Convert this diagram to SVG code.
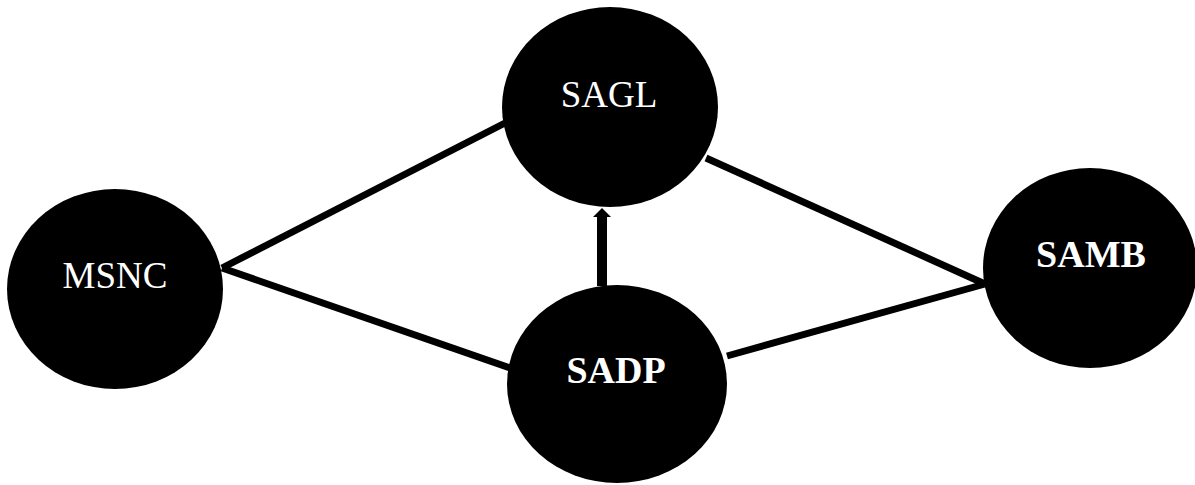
<svg xmlns="http://www.w3.org/2000/svg" width="1195" height="485" viewBox="0 0 1195 485">
<style>
.node{fill:#000}
.lbl{font-family:"Liberation Serif","Times New Roman",serif;font-size:37px;fill:#fff;text-anchor:middle}
.b{font-weight:bold;font-size:38px}
.edge{stroke:#000;stroke-width:7;fill:none;stroke-linecap:butt}
</style>
<defs>
<marker id="ah" markerUnits="userSpaceOnUse" markerWidth="10" markerHeight="20" viewBox="0 0 10 20" refX="1" refY="10" orient="auto" overflow="visible">
<polygon points="0,1 9,10 0,19" fill="#000"/>
</marker>
</defs>
<g id="connectors">
<line class="edge" x1="222" y1="268" x2="505" y2="123"/>
<line class="edge" x1="222" y1="268" x2="510" y2="368"/>
<line class="edge" x1="706" y1="158" x2="985" y2="284"/>
<line class="edge" x1="727" y1="356" x2="985" y2="284"/>
<line stroke="#000" stroke-width="10" x1="602" y1="286" x2="602" y2="216" marker-end="url(#ah)"/>
</g>
<g id="SAGL">
<ellipse class="node" cx="610" cy="107" rx="108" ry="100"/>
<text class="lbl" x="609" y="107">SAGL</text>
</g>
<g id="MSNC">
<ellipse class="node" cx="115" cy="289" rx="108" ry="100"/>
<text class="lbl" x="115" y="288">MSNC</text>
</g>
<g id="SADP">
<ellipse class="node" cx="617" cy="384" rx="110" ry="99"/>
<text class="lbl b" x="616" y="383">SADP</text>
</g>
<g id="SAMB">
<ellipse class="node" cx="1090" cy="268" rx="107" ry="100"/>
<text class="lbl b" x="1091" y="267">SAMB</text>
</g>
</svg>
